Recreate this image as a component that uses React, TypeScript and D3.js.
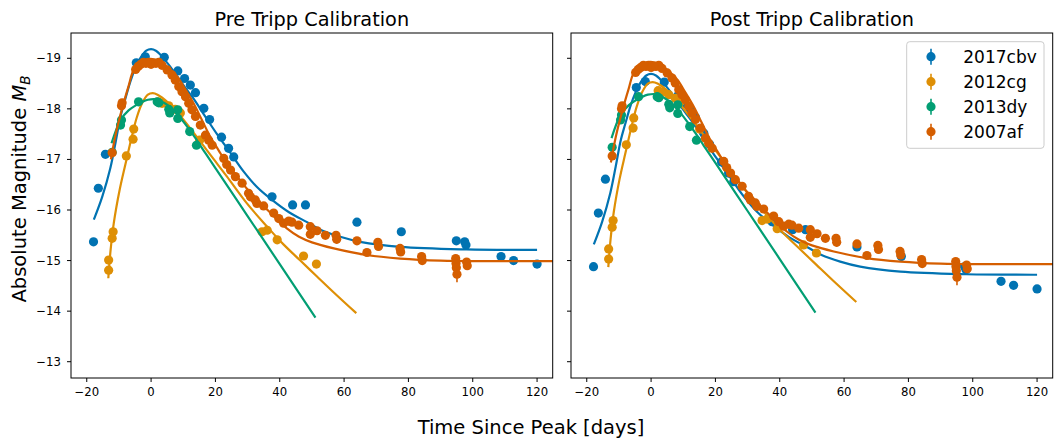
import React from 'react';
import * as d3 from 'd3';

// ---------- data ----------
const seriesNames = ['2017cbv', '2012cg', '2013dy', '2007af'];
const seriesColors = ['#0173b2', '#de8f05', '#029e73', '#d55e00'];
const xTicks = [-20, 0, 20, 40, 60, 80, 100, 120];
const yTicks = [-19, -18, -17, -16, -15, -14, -13];

// Pre Tripp calibration – observed points [t, M_B, err]
const pre2017cbv = [[-17.9,-15.37],[-16.4,-16.43],[-14.2,-17.1],[-4.6,-18.91],[-1.8,-19.03],[4.1,-19.02],[8.3,-18.75],[10.4,-18.6],[12.2,-18.47],[13.8,-18.32],[16.4,-18.01],[18.2,-17.79],[21.9,-17.44],[24.1,-17.22],[25.7,-17.05],[37.6,-16.26],[44.0,-16.1],[48,-16.1],[64,-15.76],[77.8,-15.57],[94.9,-15.39],[97.5,-15.37],[97.9,-15.31],[108.8,-15.08],[112.7,-15.0],[120,-14.93]];
const pre2012cg = [[-13.2,-14.81],[-13.2,-15.01],[-12.1,-15.44],[-11.8,-15.57],[-7.7,-17.07],[-5.6,-17.4],[-5.4,-17.6],[2.2,-18.14],[3.4,-18.11],[5.5,-18.06],[7.5,-17.99],[9.1,-17.92],[15.1,-17.38],[34.5,-15.57],[36.1,-15.6],[39.2,-15.41],[47.4,-15.09],[51.4,-14.93]];
const pre2013dy = [[-12.1,-17.14],[-9.5,-17.68],[-9.2,-17.78],[-3.9,-18.14],[1.9,-18.14],[2.4,-18.12],[5.5,-17.99],[5.8,-17.92],[8.3,-17.81],[8.3,-17.98],[12,-17.55],[14.1,-17.28]];
const pre2007af = [[-12.1,-17.13],[-9.2,-18.06],[-9,-18.12],[-4.8,-18.78],[-4,-18.84],[-3.2,-18.88],[-2.4,-18.92],[-1.6,-18.9],[-0.8,-18.92],[0,-18.88],[1.5,-18.9],[2.4,-18.92],[3.4,-18.86],[5,-18.77],[6.5,-18.67],[7.5,-18.57],[8.6,-18.44],[9.6,-18.34],[10.7,-18.24],[11.7,-18.11],[12.7,-17.98],[13.8,-17.85],[15.3,-17.68],[16.9,-17.48],[17.9,-17.38],[19,-17.28],[22.6,-17.02],[23.5,-16.9],[24.7,-16.79],[26.2,-16.66],[28.3,-16.53],[30.3,-16.33],[30.9,-16.26],[32.4,-16.2],[32.9,-16.13],[35,-16.08],[38.1,-15.94],[39.7,-15.83],[41.2,-15.74],[42.8,-15.78],[43.8,-15.76],[45.9,-15.7],[49.5,-15.67],[49.5,-15.52],[51.6,-15.59],[54.2,-15.5],[57.5,-15.5,0.08],[57.7,-15.42,0.08],[64,-15.39],[67.1,-15.16],[70.5,-15.36,0.08],[70.7,-15.28,0.08],[77.4,-15.24,0.06],[77.6,-15.17,0.06],[84.1,-15.08,0.08],[84.3,-15.0,0.08],[94.7,-15.04,0.06],[94.8,-14.94,0.06],[94.9,-14.86,0.06],[95.1,-14.73,0.16],[98.1,-14.97,0.08],[98.3,-14.9,0.08]];

// Pre Tripp calibration – fitted template curves [t, M_B]
const preFit2017cbv = [[-17.8,-15.81],[-15.2,-16.26],[-12.7,-16.82],[-11,-17.35],[-9.5,-17.85],[-8,-18.2],[-6.4,-18.55],[-4.8,-18.82],[-3.3,-19.01],[-1.5,-19.15],[0,-19.18],[1.5,-19.15],[2.9,-19.07],[4.5,-18.95],[6,-18.83],[8,-18.65],[10.5,-18.43],[13.2,-18.2],[16.5,-17.88],[20.5,-17.5],[25,-17.1],[28.8,-16.76],[33,-16.45],[37.6,-16.2],[43,-15.95],[48.5,-15.76],[53,-15.6],[58.8,-15.47],[65,-15.37],[77.5,-15.27],[98,-15.22],[120,-15.21]];
const preFit2012cg = [[-13.3,-14.65],[-12.6,-15.2],[-11.6,-15.74],[-9.8,-16.39],[-8,-16.9],[-6,-17.45],[-4.5,-17.82],[-2.8,-18.11],[-1,-18.28],[0.5,-18.31],[2,-18.28],[5,-18.14],[9.1,-17.86],[13.2,-17.53],[16.9,-17.22],[20,-16.96],[23.6,-16.66],[29.8,-16.13],[36.1,-15.67],[41,-15.33],[46.4,-15.0],[51.5,-14.69],[56.8,-14.37],[63.8,-13.96]];
const preFit2013dy = [[-12.3,-17.32],[-9.5,-17.78],[-7,-17.97],[-5,-18.06],[-3,-18.13],[-1,-18.18],[1.5,-18.19],[4,-18.12],[6,-18.03],[8.5,-17.87],[11.2,-17.65],[13.8,-17.42],[16.4,-17.17],[20,-16.83],[30,-15.88],[40,-14.93],[51.1,-13.87]];
const preFit2007af = [[-12.5,-17.0],[-11,-17.5],[-9,-18.01],[-7,-18.45],[-5.4,-18.77],[-3,-18.92],[-1.2,-18.98],[1,-18.98],[2.9,-18.93],[5,-18.83],[8.1,-18.64],[10.5,-18.4],[13.2,-18.11],[15.8,-17.78],[18.4,-17.45],[21,-17.18],[23.6,-16.92],[26.5,-16.68],[29.8,-16.42],[33,-16.2],[37,-15.95],[42.3,-15.63],[46,-15.47],[50,-15.36],[56.8,-15.24],[67,-15.11],[77.5,-15.04],[90,-15.0],[105,-14.99],[125,-14.99]];

// Post Tripp calibration – observed points
const post2017cbv = [[-17.9,-14.88],[-16.4,-15.94],[-14.2,-16.61],[-4.6,-18.42],[-1.8,-18.54],[4.1,-18.53],[8.3,-18.26],[10.4,-18.11],[12.2,-17.98],[13.8,-17.83],[16.4,-17.52],[18.2,-17.3],[21.9,-16.95],[24.1,-16.73],[25.7,-16.56],[37.6,-15.77],[44,-15.61],[48,-15.61],[64,-15.27],[77.8,-15.08],[94.9,-14.9],[97.5,-14.88],[97.9,-14.82],[108.8,-14.59],[112.7,-14.51],[120,-14.44]];
const post2012cg = [[-13.2,-15.03],[-13.2,-15.23],[-12.1,-15.66],[-11.8,-15.79],[-7.7,-17.29],[-5.6,-17.62],[-5.4,-17.82],[2.2,-18.36],[3.4,-18.33],[5.5,-18.28],[7.5,-18.21],[9.1,-18.14],[15.1,-17.6],[34.5,-15.79],[36.1,-15.82],[39.2,-15.63],[47.4,-15.31],[51.4,-15.15]];
const post2013dy = [[-12.1,-17.24],[-9.5,-17.78],[-9.2,-17.88],[-3.9,-18.24],[1.9,-18.24],[2.4,-18.22],[5.5,-18.09],[5.8,-18.02],[8.3,-17.91],[8.3,-18.08],[12,-17.65],[14.1,-17.38]];
const post2007af = [[-12.1,-17.07],[-9.2,-18.0],[-9,-18.06],[-4.8,-18.72],[-4,-18.78],[-3.2,-18.82],[-2.4,-18.86],[-1.6,-18.84],[-0.8,-18.86],[0,-18.82],[1.5,-18.84],[2.4,-18.86],[3.4,-18.8],[5,-18.71],[6.5,-18.61],[7.5,-18.51],[8.6,-18.38],[9.6,-18.28],[10.7,-18.18],[11.7,-18.05],[12.7,-17.92],[13.8,-17.79],[15.3,-17.62],[16.9,-17.42],[17.9,-17.32],[19,-17.22],[22.6,-16.96],[23.5,-16.84],[24.7,-16.73],[26.2,-16.6],[28.3,-16.47],[30.3,-16.27],[30.9,-16.2],[32.4,-16.14],[32.9,-16.07],[35,-16.02],[38.1,-15.88],[39.7,-15.77],[41.2,-15.68],[42.8,-15.72],[43.8,-15.7],[45.9,-15.64],[49.5,-15.61],[49.5,-15.46],[51.6,-15.53],[54.2,-15.44],[57.5,-15.44,0.08],[57.7,-15.36,0.08],[64,-15.33],[67.1,-15.1],[70.5,-15.3,0.08],[70.7,-15.22,0.08],[77.4,-15.18,0.06],[77.6,-15.11,0.06],[84.1,-15.02,0.08],[84.3,-14.94,0.08],[94.7,-14.98,0.06],[94.8,-14.88,0.06],[94.9,-14.8,0.06],[95.1,-14.67,0.16],[98.1,-14.91,0.08],[98.3,-14.84,0.08]];

// Post Tripp calibration – fitted template curves
const postFit2017cbv = [[-17.8,-15.32],[-15.2,-15.77],[-12.7,-16.33],[-11,-16.86],[-9.5,-17.36],[-8,-17.71],[-6.4,-18.06],[-4.8,-18.33],[-3.3,-18.52],[-1.5,-18.66],[0,-18.69],[1.5,-18.66],[2.9,-18.58],[4.5,-18.46],[6,-18.34],[8,-18.16],[10.5,-17.94],[13.2,-17.71],[16.5,-17.39],[20.5,-17.01],[25,-16.61],[28.8,-16.27],[33,-15.96],[37.6,-15.71],[43,-15.46],[48.5,-15.27],[53,-15.11],[58.8,-14.98],[65,-14.88],[77.5,-14.78],[98,-14.73],[120,-14.72]];
const postFit2012cg = [[-13.3,-14.87],[-12.6,-15.42],[-11.6,-15.96],[-9.8,-16.61],[-8,-17.12],[-6,-17.67],[-4.5,-18.04],[-2.8,-18.33],[-1,-18.5],[0.5,-18.53],[2,-18.5],[5,-18.36],[9.1,-18.08],[13.2,-17.75],[16.9,-17.44],[20,-17.18],[23.6,-16.88],[29.8,-16.35],[36.1,-15.89],[41,-15.55],[46.4,-15.22],[51.5,-14.91],[56.8,-14.59],[63.8,-14.18]];
const postFit2013dy = [[-12.3,-17.42],[-9.5,-17.88],[-7,-18.07],[-5,-18.16],[-3,-18.23],[-1,-18.28],[1.5,-18.29],[4,-18.22],[6,-18.13],[8.5,-17.97],[11.2,-17.75],[13.8,-17.52],[16.4,-17.27],[20,-16.93],[30,-15.98],[40,-15.03],[51.1,-13.97]];
const postFit2007af = [[-12.5,-16.94],[-11,-17.44],[-9,-17.95],[-7,-18.39],[-5.4,-18.71],[-3,-18.86],[-1.2,-18.92],[1,-18.92],[2.9,-18.87],[5,-18.77],[8.1,-18.58],[10.5,-18.34],[13.2,-18.05],[15.8,-17.72],[18.4,-17.39],[21,-17.12],[23.6,-16.86],[26.5,-16.62],[29.8,-16.36],[33,-16.14],[37,-15.89],[42.3,-15.57],[46,-15.41],[50,-15.3],[56.8,-15.18],[67,-15.05],[77.5,-14.98],[90,-14.94],[105,-14.93],[125,-14.93]];

// ---------- layout ----------
const W = 1054, H = 439;
const TOP = 33, BOTTOM = 378, PANEL_W = 481.7;
const FONT = 'DejaVu Sans, Verdana, sans-serif';
const DEFAULT_ERR = 0.04;
const R = 4.6;

const panels = [
  { title: 'Pre Tripp Calibration', left: 71, pts: [pre2017cbv, pre2012cg, pre2013dy, pre2007af], fits: [preFit2017cbv, preFit2012cg, preFit2013dy, preFit2007af], yLabels: true },
  { title: 'Post Tripp Calibration', left: 571, pts: [post2017cbv, post2012cg, post2013dy, post2007af], fits: [postFit2017cbv, postFit2012cg, postFit2013dy, postFit2007af], yLabels: false },
];

const fmt = (v: number) => String(v).replace('-', '\u2212');

function Panel({ p, idx }: { p: any; idx: number }) {
  const x = d3.scaleLinear().domain([-24.9, 124.86]).range([p.left, p.left + PANEL_W]);
  const y = d3.scaleLinear().domain([-19.5, -12.678]).range([TOP, BOTTOM]);
  const line = d3.line<number[]>().x(d => x(d[0])).y(d => y(d[1])).curve(d3.curveCatmullRom.alpha(0.5));
  const clipId = `clip${idx}`;
  return (
    <g>
      <defs>
        <clipPath id={clipId}>
          <rect x={p.left} y={TOP} width={PANEL_W} height={BOTTOM - TOP} />
        </clipPath>
      </defs>
      <g clipPath={`url(#${clipId})`}>
        {seriesNames.map((name, si) => (
          <g key={name}>
            {p.pts[si].map((d: number[], i: number) => {
              const e = d[2] ?? DEFAULT_ERR;
              return (
                <g key={i}>
                  <line x1={x(d[0])} x2={x(d[0])} y1={y(d[1] - e)} y2={y(d[1] + e)} stroke={seriesColors[si]} strokeWidth={1.6} />
                  <circle cx={x(d[0])} cy={y(d[1])} r={R} fill={seriesColors[si]} />
                </g>
              );
            })}
            <path d={line(p.fits[si]) || ''} fill="none" stroke={seriesColors[si]} strokeWidth={2.2} />
          </g>
        ))}
      </g>
      <rect x={p.left} y={TOP} width={PANEL_W} height={BOTTOM - TOP} fill="none" stroke="#000" strokeWidth={1} />
      {xTicks.map(t => (
        <g key={t}>
          <line x1={x(t)} x2={x(t)} y1={BOTTOM} y2={BOTTOM + 4} stroke="#000" strokeWidth={1} />
          <text x={x(t)} y={BOTTOM + 18} textAnchor="middle" fontSize={11.7} fontFamily={FONT} fill="#000">{fmt(t)}</text>
        </g>
      ))}
      {yTicks.map(t => (
        <g key={t}>
          <line x1={p.left - 4} x2={p.left} y1={y(t)} y2={y(t)} stroke="#000" strokeWidth={1} />
          {p.yLabels && (
            <text x={p.left - 10} y={y(t) + 4} textAnchor="end" fontSize={11.7} fontFamily={FONT} fill="#000">{fmt(t)}</text>
          )}
        </g>
      ))}
      <text x={p.left + PANEL_W / 2} y={26} textAnchor="middle" fontSize={19.3} fontFamily={FONT} fill="#000">{p.title}</text>
    </g>
  );
}

function Legend() {
  const lx = 906.7, ly = 41.7;
  return (
    <g>
      <rect x={lx} y={ly} width={137.3} height={106.6} rx={3} fill="#fff" fillOpacity={0.8} stroke="#cccccc" strokeWidth={1} />
      {seriesNames.map((n, i) => {
        const cy = 56.7 + i * 25;
        return (
          <g key={n}>
            <line x1={931} x2={931} y1={cy - 8} y2={cy + 8} stroke={seriesColors[i]} strokeWidth={1.6} />
            <circle cx={931} cy={cy} r={R} fill={seriesColors[i]} />
            <text x={963.3} y={cy + 6} fontSize={17} fontFamily={FONT} fill="#000">{n}</text>
          </g>
        );
      })}
    </g>
  );
}

export default function App() {
  return (
    <svg width={W} height={H} viewBox={`0 0 ${W} ${H}`} style={{ position: 'absolute', left: 0, top: 0, background: '#fff' }}>
      <rect x={0} y={0} width={W} height={H} fill="#fff" />
      {panels.map((p, i) => <Panel key={i} p={p} idx={i} />)}
      <Legend />
      <text x={531} y={434} textAnchor="middle" fontSize={19.5} fontFamily={FONT} fill="#000">Time Since Peak [days]</text>
      <text transform="translate(26,189) rotate(-90)" textAnchor="middle" fontSize={19.5} fontFamily={FONT} fill="#000">
        Absolute Magnitude <tspan fontStyle="italic">M</tspan><tspan fontStyle="italic" fontSize={13.6} dy={4}>B</tspan>
      </text>
    </svg>
  );
}
